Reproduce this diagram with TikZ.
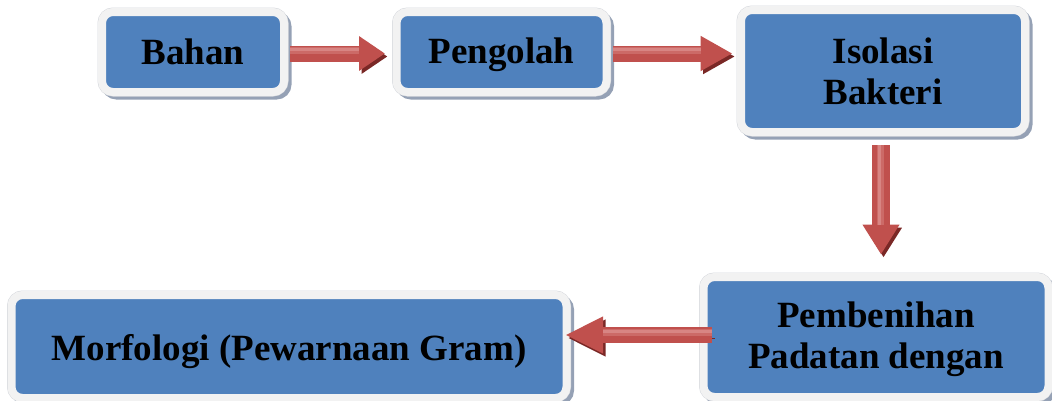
\documentclass[tikz,border=0pt]{standalone}
\usepackage{fontspec}
\setmainfont{Liberation Serif}[BoldFont={Liberation Serif Bold}]
\usetikzlibrary{arrows.meta,calc}
\definecolor{boxblue}{HTML}{4F81BD}
\definecolor{rimwhite}{HTML}{F2F2F2}
\definecolor{rimedge}{HTML}{D4D7DC}
\definecolor{boxshade}{HTML}{95A1B5}
\definecolor{arrowred}{HTML}{C0504D}
\definecolor{arrowmid}{HTML}{CC6A67}
\definecolor{arrowlight}{HTML}{D88583}
\definecolor{arrowdark}{HTML}{7A2826}
% line strut: 31pt above the baseline, 6pt below
\newcommand\linestrut{\rule[-6pt]{0pt}{37pt}}
\tikzset{
  stepbox/.style={
    rectangle, rounded corners=11pt, outer sep=0pt,
    fill=boxblue, draw=rimwhite, line width=8pt,
    preaction={fill=boxshade, draw=boxshade,
      transform canvas={shift={(3.5pt,-3.5pt)}}},
    preaction={draw=rimedge, line width=9pt},
    text=black, align=center,
    font=\bfseries\fontsize{37}{41}\selectfont},
  fatarrow/.style={
    draw=arrowred, line width=16pt,
    preaction={draw=arrowdark, transform canvas={shift={(2.5pt,-3pt)}}}},
  % soft highlight along the shaft: a wide pale band and a narrow lighter one
  sheen/.style n args={3}{
    postaction={draw=arrowmid, line width=7pt, arrows=-, shorten >=#1,
      transform canvas={#2}},
    postaction={draw=arrowlight, line width=3pt, arrows=-, shorten >=#1,
      transform canvas={#3}}}
}
\begin{document}
\begin{tikzpicture}[x=1pt,y=-1pt]
\useasboundingbox (0,0) rectangle (1052,400);

% process boxes
\node[stepbox, minimum width=182pt, minimum height=80pt]  (b1) at (193,52)    {\linestrut Bahan};
\node[stepbox, minimum width=210pt, minimum height=80pt]  (b2) at (501.5,52)  {\linestrut Pengolah};
\node[stepbox, minimum width=284pt, minimum height=122pt] (b3) at (883,71)    {\linestrut Isolasi\\\linestrut Bakteri};
\node[stepbox, minimum width=345pt, minimum height=120pt] (b4) at (876,337)   {\linestrut Pembenihan\\\linestrut Padatan dengan};
\node[stepbox, minimum width=555pt, minimum height=103pt] (b5) at (289,346.5) {\rule[-2pt]{0pt}{38pt}Morfologi (Pewarnaan Gram)};

% block arrows between the steps
\draw[fatarrow, -{Triangle[length=26pt,width=33pt]}, sheen={26pt}{yshift=3pt}{yshift=4pt}]
  ($(b1.east)+(6,1.5)$) -- ($(b2.west)+(-11.5,1.5)$);
\draw[fatarrow, -{Triangle[length=32pt,width=33pt]}, sheen={32pt}{yshift=3pt}{yshift=4pt}]
  ($(b2.east)+(6.5,1.5)$) -- ($(b2.east -| b3.west)+(-8.5,1.5)$);
\draw[fatarrow, line width=18pt, -{Triangle[length=30pt,width=35pt]}, sheen={30pt}{xshift=-1pt}{xshift=-2pt}]
  ($(b3.south)+(-2,13)$) -- ($(b3.south |- b4.north)+(-2,-22.5)$);
\draw[fatarrow, -{Triangle[length=38pt,width=34pt]}, sheen={38pt}{yshift=3pt}{yshift=4pt}]
  ($(b4.west)+(8.5,-2)$) -- ($(b4.west -| b5.east)+(-1.5,-2)$);
\end{tikzpicture}
\end{document}
